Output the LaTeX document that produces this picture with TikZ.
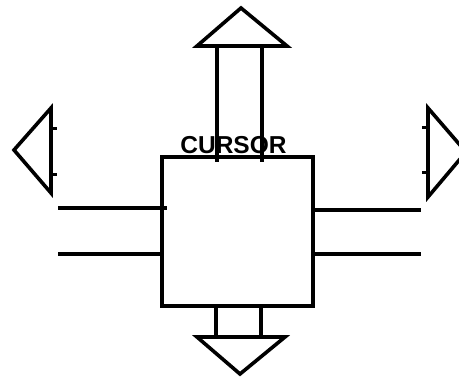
\documentclass[tikz,border=0pt]{standalone}
\usepackage{fontspec}
\setmainfont{Liberation Sans}
\usetikzlibrary{positioning}

\begin{document}
\begin{tikzpicture}[
  x=1pt, y=-1pt,
  ln/.style={draw, line width=3.4pt},
  head/.style={draw, line width=3.6pt, line join=miter},
  tick/.style={draw, line width=3pt},
  lbl/.style={font=\bfseries\fontsize{24.5}{26}\selectfont, inner sep=0pt, anchor=base}
]
\clip (0,0) rectangle (459,378);
\useasboundingbox (0,0) rectangle (459,378);
% cursor box
\draw[ln] (162,157) rectangle (313,306);
\node[lbl] (cursor) at (233.5,153) {CURSOR};
% up arrow
\draw[ln] (217,48) -- (217,162);
\draw[ln] (262,48) -- (262,162);
\draw[head] (197,46) -- (241,8) -- (287,46) -- cycle;
% down arrow
\draw[ln] (216,306) -- (216,335);
\draw[ln] (261,306) -- (261,335);
\draw[head] (197,337) -- (240,374) -- (285,337) -- cycle;
% left arrow
\draw[ln] (58,208) -- (167,208);
\draw[ln] (58,254) -- (162,254);
\draw[head] (51,108) -- (14,150) -- (51,193) -- cycle;
\draw[tick] (51,128) -- (57,128);
\draw[tick] (51,174) -- (57,174);
% right arrow
\draw[ln] (313,210) -- (421,210);
\draw[ln] (313,254) -- (421,254);
\draw[head] (428,108) -- (466,152) -- (428,197) -- cycle;
\draw[tick] (422,127) -- (428,127);
\draw[tick] (422,172) -- (428,172);
\end{tikzpicture}
\end{document}
